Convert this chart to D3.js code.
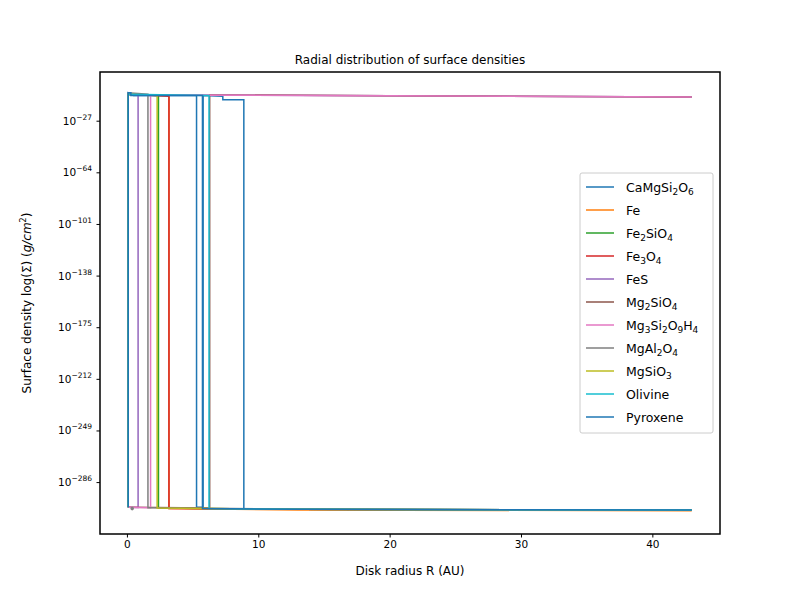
<!DOCTYPE html>
<html><head><meta charset="utf-8">
<script src="https://cdn.jsdelivr.net/npm/d3@7"></script>
<style>body{margin:0;background:#fff}text{font-family:"DejaVu Sans",sans-serif}</style>
</head><body><svg id="chart"></svg>
<script>
// series: radius (AU) and log10 surface density
const names = ["CaMgSi2O6","Fe","Fe2SiO4","Fe3O4","FeS","Mg2SiO4","Mg3Si2O9H4","MgAl2O4","MgSiO3","Olivine","Pyroxene"];
const colors = ["#1f77b4","#ff7f0e","#2ca02c","#d62728","#9467bd","#8c564b","#e377c2","#7f7f7f","#bcbd22","#17becf","#1f77b4"];
const radii = [
  [0.1,0.1,0.5,5.3,5.3,5.8,5.8,7.3,7.3,8.9,8.9,13,43],
  [0.1,0.1,2.7,3.2,3.2,13,43],
  [0.1,0.1,2.4,2.4,13,43],
  [0.1,0.1,3.2,3.2,13,43],
  [0.1,0.85,0.85,20,43],
  [0.1,6.3,6.3,20,43],
  [0.1,1.8,1.8,20,43],
  [0.1,0.1,1.6,1.6,2.1,2.1,13,43],
  [0.1,0.1,2.3,2.3,13,43],
  [0.1,0.1,6.25,6.25,13,43],
  [0.1,0.1,0.3,0.3,5.75,5.75,13,43]
];
const logSigma = [
  [-304,-7,-9,-9,-304,-304,-9,-9.5,-12,-12,-305,-305.5,-306],
  [-304,-8,-9,-9,-305,-306,-306.5],
  [-304,-8,-9,-304.5,-305.5,-306],
  [-304,-8,-9.5,-305,-305.5,-306],
  [-304,-304.2,-8.5,-9.2,-10],
  [-304,-304.5,-8.5,-9.2,-10],
  [-304,-304.3,-8.5,-9.2,-10],
  [-304,-7,-8,-304.3,-304.3,-304.4,-305.5,-306],
  [-304,-8,-9,-304.5,-305.5,-306],
  [-304,-8,-9,-305,-305.5,-306],
  [-304,-7,-7,-9,-9,-305,-305.5,-306]
];
const yTicks = [-27,-64,-101,-138,-175,-212,-249,-286];
const xTicks = [0,10,20,30,40];

const W = 800, H = 600, m = {l:100, r:80, t:72, b:66};
const svg = d3.select("#chart").attr("width", W).attr("height", H);
const x = d3.scaleLinear().domain([-2.05, 45.15]).range([m.l, W - m.r]);
const y = d3.scaleLinear().domain([-323.2, 7.9]).range([H - m.b, m.t]);

const line = d3.line().x(d => x(d[0])).y(d => y(d[1]));
radii.forEach((r, i) => {
  svg.append("path").datum(r.map((v, j) => [v, logSigma[i][j]]))
    .attr("d", line).attr("fill", "none").attr("stroke", colors[i]).attr("stroke-width", 1.5);
});
// stray point near origin
svg.append("circle").attr("cx", x(0.4)).attr("cy", y(-305)).attr("r", 1.8).attr("fill", "#7f7f7f");

const xa = svg.append("g").attr("transform", `translate(0,${H - m.b})`)
  .call(d3.axisBottom(x).tickValues(xTicks).tickSize(3.5).tickPadding(3.5));
const ya = svg.append("g").attr("transform", `translate(${m.l},0)`)
  .call(d3.axisLeft(y).tickValues(yTicks).tickSize(3.5).tickPadding(3.5).tickFormat(""));
[xa, ya].forEach(a => { a.select(".domain").remove(); a.selectAll("text").attr("font-size", 10.5).attr("fill", "#000"); });
yTicks.forEach(t => {
  const tx = ya.append("text").attr("x", -8).attr("y", y(t) + 4).attr("text-anchor", "end")
    .attr("font-size", 10.5).attr("fill", "#000");
  tx.append("tspan").text("10");
  tx.append("tspan").attr("dy", -5).attr("font-size", 7.5).text("\u2212" + (-t));
});
svg.append("rect").attr("x", m.l).attr("y", m.t).attr("width", W - m.l - m.r).attr("height", H - m.t - m.b)
  .attr("fill", "none").attr("stroke", "#000").attr("stroke-width", 1.5);

svg.append("text").attr("x", (m.l + W - m.r) / 2).attr("y", 64).attr("text-anchor", "middle").attr("font-size", 12)
  .text("Radial distribution of surface densities");
svg.append("text").attr("x", (m.l + W - m.r) / 2).attr("y", 575).attr("text-anchor", "middle").attr("font-size", 12)
  .text("Disk radius R (AU)");
const yl = svg.append("text").attr("transform", `translate(31,${(m.t + H - m.b) / 2}) rotate(-90)`)
  .attr("text-anchor", "middle").attr("font-size", 12);
yl.append("tspan").text("Surface density log(\u03A3) (");
yl.append("tspan").attr("font-style", "italic").text("g/cm");
yl.append("tspan").attr("dy", -5).attr("font-size", 8).text("2");
yl.append("tspan").attr("dy", 5).text(")");

// legend
const lg = svg.append("g").attr("transform", "translate(580,173)");
lg.append("rect").attr("width", 133).attr("height", 260).attr("rx", 2).attr("fill", "#fff").attr("stroke", "#ccc");
names.forEach((n, i) => {
  const yy = 14 + i * 23;
  lg.append("line").attr("x1", 6).attr("x2", 34).attr("y1", yy).attr("y2", yy).attr("stroke", colors[i]).attr("stroke-width", 1.5);
  const t = lg.append("text").attr("x", 46).attr("y", yy + 4.5).attr("font-size", 12.5);
  let sub = false;
  n.split(/(\d+)/).filter(s => s).forEach(s => {
    const isNum = /\d/.test(s);
    const ts = t.append("tspan").text(s);
    if (isNum) { ts.attr("dy", sub ? 0 : 3).attr("font-size", 9); sub = true; }
    else { if (sub) ts.attr("dy", -3); sub = false; }
  });
});
</script></body></html>
